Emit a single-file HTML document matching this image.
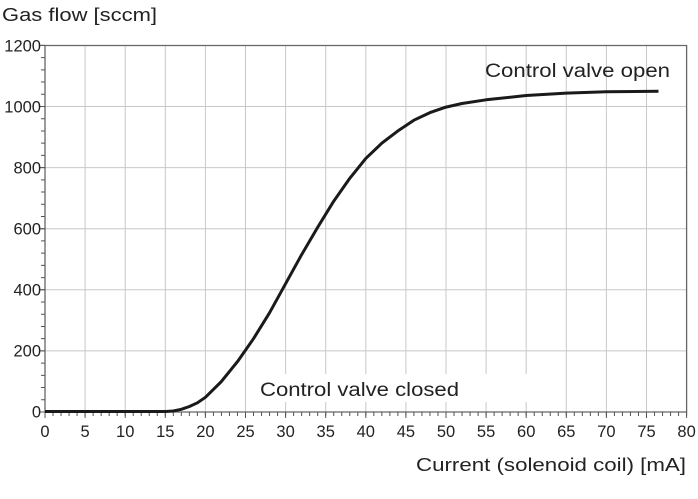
<!DOCTYPE html>
<html><head><style>body{margin:0;background:#fff}svg{display:block}text{font-family:"Liberation Sans",sans-serif;fill:#222}</style></head>
<body>
<svg width="698" height="499" viewBox="0 0 698 499" xmlns="http://www.w3.org/2000/svg">
<g stroke="#c8c8c8" stroke-width="1">
<line x1="85.1" y1="46" x2="85.1" y2="412"/><line x1="125.2" y1="46" x2="125.2" y2="412"/><line x1="165.3" y1="46" x2="165.3" y2="412"/><line x1="205.4" y1="46" x2="205.4" y2="412"/><line x1="245.5" y1="46" x2="245.5" y2="412"/><line x1="285.6" y1="46" x2="285.6" y2="412"/><line x1="325.7" y1="46" x2="325.7" y2="412"/><line x1="365.8" y1="46" x2="365.8" y2="412"/><line x1="405.9" y1="46" x2="405.9" y2="412"/><line x1="446" y1="46" x2="446" y2="412"/><line x1="486.1" y1="46" x2="486.1" y2="412"/><line x1="526.2" y1="46" x2="526.2" y2="412"/><line x1="566.3" y1="46" x2="566.3" y2="412"/><line x1="606.4" y1="46" x2="606.4" y2="412"/><line x1="646.5" y1="46" x2="646.5" y2="412"/>
<line x1="45" y1="106.5" x2="686" y2="106.5"/><line x1="45" y1="167.6" x2="686" y2="167.6"/><line x1="45" y1="228.7" x2="686" y2="228.7"/><line x1="45" y1="289.8" x2="686" y2="289.8"/><line x1="45" y1="350.9" x2="686" y2="350.9"/>
</g>
<polyline points="45,412 686.6,412 686.6,45.5 45,45.5 45,412" fill="none" stroke="#666" stroke-width="1.3"/>
<g stroke="#555" stroke-width="4" fill="none">
<line x1="44.5" y1="414" x2="688" y2="414" stroke-dasharray="1 7.02"/>
<line x1="44.5" y1="415" x2="688" y2="415" stroke-width="6" stroke-dasharray="1 39.1"/>
<line x1="43" y1="412.5" x2="43" y2="44" stroke-dasharray="1 11.22"/>
<line x1="42" y1="412.5" x2="42" y2="44" stroke-width="6" stroke-dasharray="1 60.1"/>
</g>
<rect x="256" y="374" width="280" height="28" fill="#fff"/>
<polyline points="45,411.5 165.3,411.5 173.3,411 181.3,409.3 189.4,406.5 197.4,402.8 205.4,397.3 221.4,381.5 237.5,361.6 253.5,338.7 269.6,312.7 285.6,283.7 301.6,254.7 317.7,227.2 333.7,201.2 349.8,178.3 365.8,158.4 381.8,143.2 397.9,130.9 413.9,120.2 430,112.6 446,107.1 462,103.5 486.1,99.8 526.2,95.5 566.3,93.1 606.4,91.8 658.5,91.2" fill="none" stroke="#1a1a1a" stroke-width="3" stroke-linejoin="round"/>
<text x="260" y="396" font-size="19" textLength="199" lengthAdjust="spacingAndGlyphs">Control valve closed</text>
<text x="485" y="77" font-size="19" textLength="185" lengthAdjust="spacingAndGlyphs">Control valve open</text>
<text x="2" y="21" font-size="18" textLength="155" lengthAdjust="spacingAndGlyphs">Gas flow [sccm]</text>
<text x="416" y="471" font-size="18.5" textLength="270" lengthAdjust="spacingAndGlyphs">Current (solenoid coil) [mA]</text>
<g font-size="16.5" text-anchor="end">
<text x="41" y="51.5">1200</text><text x="41" y="112.5">1000</text><text x="41" y="173.5">800</text><text x="41" y="234.5">600</text><text x="41" y="295.5">400</text><text x="41" y="356.5">200</text><text x="41" y="417.5">0</text>
</g>
<g font-size="16.5" text-anchor="middle">
<text x="45" y="437">0</text><text x="85.1" y="437">5</text><text x="125.2" y="437">10</text><text x="165.3" y="437">15</text><text x="205.4" y="437">20</text><text x="245.5" y="437">25</text><text x="285.6" y="437">30</text><text x="325.7" y="437">35</text><text x="365.8" y="437">40</text><text x="405.9" y="437">45</text><text x="446" y="437">50</text><text x="486.1" y="437">55</text><text x="526.2" y="437">60</text><text x="566.3" y="437">65</text><text x="606.4" y="437">70</text><text x="646.5" y="437">75</text><text x="686.6" y="437">80</text>
</g>
</svg>
</body></html>
